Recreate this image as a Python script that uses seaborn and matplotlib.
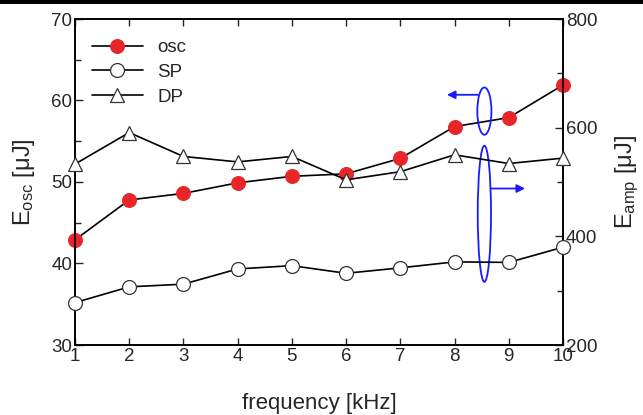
import numpy as np
import pandas as pd
import matplotlib
matplotlib.use("Agg")
import matplotlib.pyplot as plt
from matplotlib.patches import Ellipse, Rectangle
from matplotlib.ticker import MultipleLocator
import seaborn as sns

# values
freq = [1, 2, 3, 4, 5, 6, 7, 8, 9, 10]
osc = [42.9, 47.8, 48.6, 49.9, 50.7, 51.0, 52.9, 56.8, 57.9, 61.9]       # left axis
sp = [278, 307, 312, 340, 346, 332, 342, 353, 352, 380]                   # right axis
dp = [533, 591, 547, 537, 547, 504, 519, 550, 534, 544]                   # right axis

sns.set_style("ticks")
plt.rcParams['font.family'] = ['Liberation Sans', 'DejaVu Sans']
plt.rcParams['mathtext.default'] = 'regular'

fig = plt.figure(figsize=(6.43, 4.15), dpi=100)
ax = fig.add_axes([75/643, 1-345/415, (563-75)/643, (345-19)/415])
ax2 = ax.twinx()

red = '#e8262a'
sns.lineplot(x=freq, y=osc, ax=ax, color='black', lw=1.2, marker='o', markersize=10,
             markerfacecolor=red, markeredgecolor=red, clip_on=False, zorder=5, label='osc')
sns.lineplot(x=freq, y=sp, ax=ax2, color='black', lw=1.2, marker='o', markersize=10,
             markerfacecolor='white', markeredgecolor='#333333', markeredgewidth=0.9,
             clip_on=False, zorder=5, label='SP')
sns.lineplot(x=freq, y=dp, ax=ax2, color='black', lw=1.2, marker='^', markersize=10,
             markerfacecolor='white', markeredgecolor='#333333', markeredgewidth=0.9,
             clip_on=False, zorder=5, label='DP')

h1, l1 = ax.get_legend_handles_labels()
h2, l2 = ax2.get_legend_handles_labels()
if ax2.get_legend():
    ax2.get_legend().remove()
ax.legend(h1 + h2, l1 + l2, loc='upper left', frameon=False, fontsize=13.5,
          handlelength=2.7, bbox_to_anchor=(0.0, 0.99), labelspacing=0.4)

ax.set_xlim(1, 10)
ax.set_ylim(30, 70)
ax2.set_ylim(200, 800)
ax.set_xticks(freq)
ax.yaxis.set_major_locator(MultipleLocator(10))
ax.yaxis.set_minor_locator(MultipleLocator(5))
ax2.yaxis.set_major_locator(MultipleLocator(200))
ax2.yaxis.set_minor_locator(MultipleLocator(100))

ax.tick_params(axis='x', direction='in', top=True, length=5, width=1, labelsize=13.5, pad=2)
ax.tick_params(axis='y', which='both', direction='in', right=False, width=1, labelsize=13.5, pad=2)
ax.tick_params(axis='y', which='major', length=6)
ax.tick_params(axis='y', which='minor', length=4)
ax2.tick_params(axis='y', which='both', direction='in', width=1, labelsize=13.5, pad=2)
ax2.tick_params(axis='y', which='major', length=6)
ax2.tick_params(axis='y', which='minor', length=4)
for a in (ax, ax2):
    for s in a.spines.values():
        s.set_linewidth(1.2)
        s.set_color('black')

ax.set_xlabel('frequency [kHz]', fontsize=16, labelpad=20)
ax.set_ylabel('E$_{osc}$ [μJ]', fontsize=17, labelpad=10)
ax2.set_ylabel('E$_{amp}$ [μJ]', fontsize=17, labelpad=12)

# blue ellipses and arrows pointing to the axes
blue = '#1a1aff'
ax.add_patch(Ellipse((8.55, 58.7), 0.26, 5.8, fill=False, edgecolor=blue, lw=1.3, zorder=6))
ax.add_patch(Ellipse((8.55, 46.1), 0.245, 16.7, fill=False, edgecolor=blue, lw=1.3, zorder=6))
ax.annotate('', xy=(7.86, 60.7), xytext=(8.43, 60.7),
            arrowprops=dict(arrowstyle='-|>', color=blue, lw=1.3, mutation_scale=12,
                            shrinkA=0, shrinkB=0), zorder=6)
ax.annotate('', xy=(9.3, 49.2), xytext=(8.67, 49.2),
            arrowprops=dict(arrowstyle='-|>', color=blue, lw=1.3, mutation_scale=12,
                            shrinkA=0, shrinkB=0), zorder=6)

# thin black strip along the top edge, as in the reference
fig.patches.append(Rectangle((0, 1 - 4/415), 1, 4/415, transform=fig.transFigure,
                             facecolor='black', edgecolor='none'))

fig.savefig('out.png', dpi=100)
